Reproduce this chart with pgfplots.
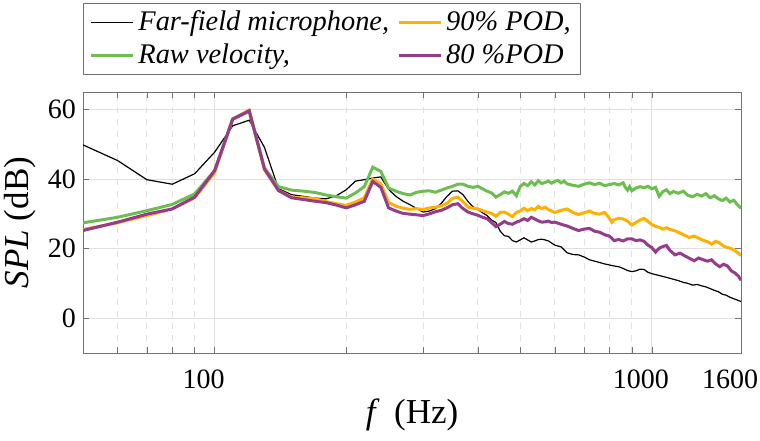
\documentclass[border=0pt]{standalone}
\usepackage{fontspec}
\setmainfont{Liberation Serif}
\usepackage{pgfplots}
\pgfplotsset{compat=1.18}
\definecolor{cgreen}{RGB}{108,190,80}
\definecolor{corange}{RGB}{255,176,0}
\definecolor{cpurple}{RGB}{150,60,140}

\begin{document}
\begin{tikzpicture}
\begin{axis}[
    scale only axis,
    width=329pt, height=130.5pt,
    xmode=log, xmin=50, xmax=1600, ymin=-10, ymax=65,
    xtick={100,1000,1600}, xticklabels={100,1000,1600},
    minor xtick={60,70,80,90,200,300,400,500,600,700,800,900},
    ytick={0,20,40,60},
    /pgf/number format/assume math mode=true,
    grid=both,
    major grid style={black!12},
    minor grid style={black!12, dashed},
    axis line style={black!55},
    tick style={black!55},
    tick align=inside,
    major tick length=3pt, minor tick length=3pt,
    every tick label/.append style={font=\fontsize{14}{17}\selectfont},
    xticklabel style={yshift=-5pt, xshift=-5.5pt},
    xlabel={\textit{f} \,(Hz)},
    ylabel={\textit{SPL} (dB)},
    label style={font=\fontsize{17.5}{20}\selectfont},
    xlabel style={yshift=2pt},
    ylabel style={yshift=-1pt},
    legend columns=2,
    legend cell align=left,
    legend style={at={(0,1)}, anchor=south west, yshift=8.5pt,
        draw=black!55, font=\fontsize{14.2}{17}\selectfont\itshape,
        /tikz/every even column/.append style={column sep=2pt},
        row sep=1pt, inner xsep=3pt, inner ysep=2pt},
    legend image code/.code={\draw[#1] (0pt,0pt) -- (21pt,0pt);},
]
\addplot[black, line width=0.6pt] coordinates {
(50,49.8) (60,45.3) (70,39.8) (80,38.5) (90,41.5) (100,47.7) (110,55.3) (120,56.9)
(130,49.1) (140,37.2) (150,35.5) (160,35.0) (170,34.5) (180,34.3) (190,35.2) (200,36.9)
(210,39.4) (220,39.8) (230,40.3) (240,40.6) (250,37.0) (260,35.0) (270,33.6) (280,32.6)
(290,31.5) (300,30.5) (310,30.8) (320,31.5) (330,33.0) (340,35.0) (350,36.5) (360,36.6)
(370,35.5) (380,33.5) (390,32.0) (400,31.2) (410,30.3) (420,29.5) (430,28.2) (440,27.5)
(450,25.0) (460,23.7) (470,23.5) (480,22.3) (490,21.9) (500,22.5) (510,23.1) (520,22.5)
(530,21.9) (540,22.2) (550,22.6) (560,22.7) (570,22.5) (580,22.2) (590,21.6) (600,21.0)
(620,20.5) (640,18.8) (660,18.3) (680,18.2) (700,17.6) (720,16.8) (740,16.4) (760,16.0)
(780,15.6) (800,15.3) (820,15.0) (840,14.8) (860,14.3) (880,13.7) (900,13.4) (920,13.6)
(940,14.1) (960,14.0) (980,13.2) (1000,12.8) (1030,12.4) (1060,12.0) (1090,11.6) (1120,11.2)
(1150,10.8) (1180,10.3) (1210,10.0) (1240,9.5) (1270,9.7) (1300,9.3) (1330,9.0) (1360,8.5)
(1390,8.0) (1420,7.6) (1450,6.9) (1480,6.6) (1510,6.0) (1540,5.6) (1570,5.2) (1600,4.8)
};
\addlegendentry{Far-field microphone,}
\addplot[corange, line width=1.5pt] coordinates {
(50,25.5) (60,27.4) (70,29.5) (80,31.4) (90,34.6) (100,41.8) (110,57.3) (120,59.8)
(130,42.7) (140,36.7) (150,34.8) (160,34.6) (170,34.3) (180,33.5) (190,32.9) (200,32.4)
(210,33.4) (220,34.6) (230,40.0) (240,38.6) (250,33.2) (260,32.2) (270,31.6) (280,31.3)
(290,31.5) (300,31.2) (310,31.7) (320,31.9) (330,32.3) (340,33.0) (350,34.4) (360,34.8)
(370,33.5) (380,31.9) (390,31.6) (400,31.4) (410,30.9) (420,30.5) (430,30.1) (440,29.3)
(450,30.4) (460,30.5) (470,29.9) (480,29.2) (490,30.4) (500,30.8) (510,31.6) (520,30.9)
(530,31.5) (540,31.2) (550,32.1) (560,31.5) (570,31.9) (580,31.2) (590,30.8) (600,30.4)
(620,31.0) (640,31.4) (660,30.4) (680,29.8) (700,30.3) (720,30.8) (740,30.1) (760,29.9)
(780,30.4) (800,28.7) (810,27.6) (820,28.3) (840,28.7) (860,28.5) (880,27.9) (900,26.8)
(920,27.5) (940,28.2) (960,28.7) (980,27.8) (1000,26.9) (1020,26.4) (1040,26.1) (1060,25.6)
(1080,26.0) (1100,25.5) (1130,25.1) (1160,24.5) (1190,23.8) (1220,23.2) (1250,23.6) (1280,23.0)
(1310,22.4) (1340,22.0) (1370,21.3) (1400,22.1) (1430,21.6) (1460,20.7) (1490,20.3) (1520,20.0)
(1550,19.4) (1580,18.6) (1600,18.0)
};
\addlegendentry{90\% POD,}
\addplot[cgreen, line width=1.5pt] coordinates {
(50,27.4) (60,29.0) (70,30.9) (80,32.7) (90,35.7) (100,42.4) (110,57.2) (120,59.4)
(130,43.2) (140,37.8) (150,36.8) (160,36.5) (170,36.1) (180,35.4) (190,34.9) (200,34.5)
(210,36.0) (220,37.8) (230,43.4) (240,42.2) (250,37.4) (260,36.5) (270,35.8) (280,35.4)
(290,36.2) (300,36.5) (310,36.6) (320,36.2) (330,36.8) (340,37.4) (350,37.9) (360,38.5)
(370,38.5) (380,37.9) (390,37.6) (400,37.9) (410,37.2) (420,36.5) (430,36.0) (440,34.8)
(450,35.5) (460,36.3) (470,35.9) (480,36.5) (490,35.2) (500,37.8) (510,38.7) (520,38.1)
(530,39.2) (540,38.3) (550,39.5) (560,38.7) (570,39.0) (580,39.4) (590,38.8) (600,39.3)
(610,39.6) (620,38.9) (630,39.4) (640,38.6) (660,38.2) (680,37.9) (700,38.5) (720,38.9)
(740,38.4) (760,38.8) (780,38.1) (800,38.4) (820,38.7) (840,38.3) (860,38.9) (870,37.6)
(880,36.8) (890,37.8) (900,36.6) (920,37.4) (940,37.8) (960,37.5) (980,37.9) (1000,37.2)
(1020,37.6) (1040,35.0) (1060,36.4) (1080,36.9) (1100,35.8) (1120,36.4) (1150,35.9) (1180,36.5)
(1210,35.3) (1240,34.9) (1270,35.6) (1300,35.1) (1330,35.8) (1360,34.6) (1390,35.2) (1420,34.3)
(1450,33.8) (1480,34.5) (1510,33.4) (1540,33.9) (1570,32.6) (1600,31.6)
};
\addlegendentry{Raw velocity,}
\addplot[cpurple, line width=1.5pt] coordinates {
(50,25.2) (60,27.6) (70,29.9) (80,31.4) (90,34.8) (100,42.4) (110,57.2) (120,59.6)
(130,42.9) (140,36.7) (150,34.6) (160,34.1) (170,33.6) (180,33.2) (190,32.5) (200,31.7)
(210,32.6) (220,33.6) (230,39.3) (240,37.6) (250,31.7) (260,30.8) (270,30.1) (280,29.9)
(290,29.7) (300,29.5) (310,30.0) (320,30.6) (330,31.0) (340,31.7) (350,32.6) (360,32.9)
(370,31.5) (380,30.5) (390,30.0) (400,29.6) (410,29.0) (420,28.6) (430,27.5) (440,26.3)
(450,27.0) (460,27.8) (470,27.2) (480,27.0) (490,27.6) (500,28.0) (510,28.6) (520,28.1)
(530,29.0) (540,28.5) (550,28.0) (560,27.6) (570,27.7) (580,27.9) (590,27.5) (600,27.6)
(620,27.0) (640,26.5) (660,25.8) (680,25.2) (700,25.6) (720,25.8) (740,25.0) (760,24.7)
(780,24.0) (800,23.6) (820,22.3) (840,22.6) (860,22.2) (880,22.8) (900,22.8) (920,22.3)
(940,22.5) (960,22.1) (980,21.0) (1000,20.3) (1020,19.0) (1040,20.1) (1060,20.6) (1080,20.9)
(1100,19.5) (1130,18.2) (1160,18.7) (1190,17.9) (1220,17.2) (1250,16.5) (1280,17.3) (1310,16.8)
(1340,16.4) (1370,16.8) (1400,15.6) (1430,14.8) (1460,15.5) (1490,15.0) (1520,13.6) (1550,13.0)
(1580,12.0) (1600,10.9)
};
\addlegendentry{80 \%POD}
\end{axis}
\pgfresetboundingbox
\path[use as bounding box] (-41.5pt,-43.5pt) rectangle (338.5pt,176.5pt);
\end{tikzpicture}
\end{document}
